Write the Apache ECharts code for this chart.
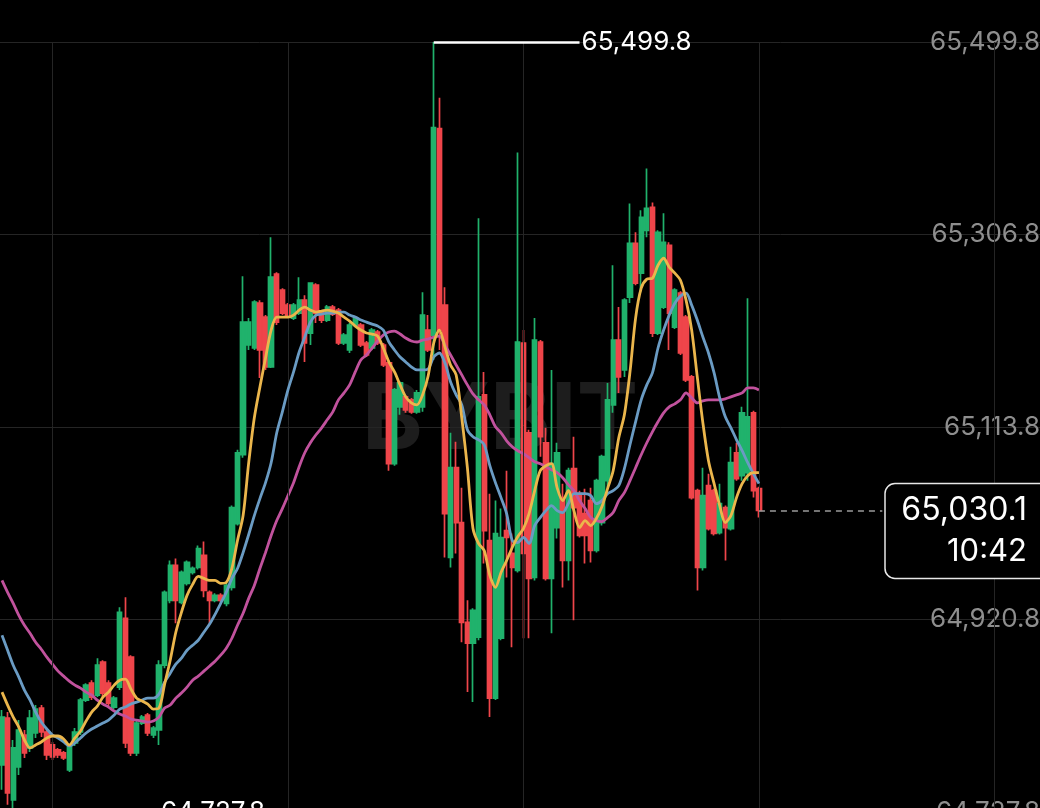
<!DOCTYPE html>
<html>
<head>
<meta charset="utf-8">
<script src="https://cdn.jsdelivr.net/npm/echarts@6/dist/echarts.min.js"></script>
<style>
html,body{margin:0;padding:0;background:#000;}
#c{width:1040px;height:808px;}
</style>
</head>
<body>
<div id="c"></div>
<script>
// ---------- data ----------
const opens = [
64775,64822,64740,64773,64805,64792,64807,64832,64808,64795,
64790,64787,64770,64797,64808,64840,64857,64845,64878,64857,
64833,64853,64922,64883,64787,64817,64825,64805,64810,64875,
64940,64975,64938,64957,64968,64973,64985,64948,64940,64945,
64937,64953,65017,65086,65196,65193,65238,65224,65174,65267,
65251,65236,65223,65228,65241,65208,65256,65229,65221,65234,
65231,65198,65191,65216,65216,65198,65193,65209,65196,65178,
65077,65134,65144,65141,65129,65134,65211,65206,65413,65236,
64983,65073,65018,64918,64897,64903,65146,65000,64842,64902,
65010,64987,64970,65198,65108,64963,65199,65098,64962,65013,
65043,64980,65072,65047,65027,65040,64990,65018,65060,65136,
65201,65171,65244,65298,65268,65311,65334,65208,65234,65296,
65214,65248,65224,65164,65050,64973,65055,65050,65008,65033,
65012,65088,65065,65068,65128,65052];
const closes = [
64823,64747,64792,64810,64787,64822,64831,64808,64785,64783,
64785,64782,64793,64808,64840,64855,64843,64875,64847,64837,
64842,64928,64797,64787,64817,64823,64807,64812,64875,64948,
64975,64940,64968,64978,64972,64992,64950,64940,64945,64940,
64955,65033,65088,65219,65219,65239,65191,65174,65264,65219,
65228,65226,65236,65241,65198,65258,65228,65221,65234,65227,
65198,65206,65216,65223,65196,65186,65211,65198,65176,65077,
65151,65158,65131,65129,65148,65226,65191,65414,65211,65027,
65073,65018,64918,64897,64930,65144,65010,64842,65007,65003,
65003,64973,65199,64987,64962,65201,65104,64962,65077,65088,
64980,65070,65033,65005,65005,64990,65060,65084,65141,65201,
65164,65241,65298,65258,65324,65333,65208,65309,65299,65228,
65251,65188,65161,65043,64973,65045,65012,65007,65037,65013,
65078,65062,65128,65124,65050,65030.1];
const lows = [
64750,64735,64727.8,64765,64782,64788,64802,64803,64780,64780,
64782,64780,64768,64794,64805,64838,64840,64843,64843,64834,
64831,64850,64792,64784,64784,64815,64804,64802,64795,64872,
64937,64917,64936,64955,64966,64971,64943,64917,64938,64938,
64934,64950,65015,65083,65191,65191,65163,65171,65173,65216,
65226,65224,65221,65226,65179,65196,65218,65218,65219,65225,
65196,65196,65188,65214,65194,65184,65191,65196,65174,65070,
65075,65126,65128,65127,65127,65129,65189,65181,65191,64983,
64973,64987,64898,64848,64838,64900,64977,64823,64840,64900,
64963,64893,64968,64902,64902,64960,65084,64960,64907,65002,
64953,64960,64920,65003,64977,64978,64988,65015,65053,65128,
65148,65164,65238,65256,65249,65304,65204,65206,65232,65191,
65212,65186,65159,65041,64950,64970,65010,65005,65006,64980,
65010,65060,65060,65060,65043,65023];
const highs = [
64830,64828,64800,64820,64810,64830,64835,64835,64812,64798,
64792,64789,64795,64812,64842,64857,64860,64882,64880,64860,
64844,64933,64943,64885,64820,64825,64827,64814,64880,64950,
64980,64982,64970,64980,64974,64995,64999,64950,64947,64947,
64958,65035,65091,65265,65223,65241,65241,65226,65304,65269,
65253,65238,65238,65264,65246,65259,65258,65231,65236,65236,
65233,65208,65218,65225,65218,65200,65213,65211,65198,65181,
65153,65160,65146,65143,65151,65249,65226,65499.8,65444,65254,
65108,65099,65053,64940,64932,65323,65169,65047,65040,65032,
65070,65007,65389,65211,65111,65223,65201,65113,65171,65098,
65057,65073,65104,65050,65052,65053,65062,65086,65158,65276,
65234,65243,65338,65309,65331,65373,65339,65311,65328,65299,
65253,65250,65226,65166,65052,65073,65067,65052,65057,65035,
65094,65098,65134,65243,65130,65054];
const maShort = [
64848,64835,64823,64813,64800,64792,64795,64798,64802,64804,
64804,64801,64795,64802,64809,64819,64828,64834,64843,64848,
64855,64860,64861,64851,64842,64839,64836,64831,64832,64856,
64880,64908,64928,64945,64956,64964,64962,64960,64960,64957,
64958,64972,65000,65025,65078,65123,65154,65183,65211,65224,
65224,65224,65226,65231,65234,65231,65229,65230,65231,65230,
65228,65224,65220,65215,65211,65208,65207,65205,65193,65179,
65169,65156,65144,65138,65136,65146,65165,65198,65211,65194,
65176,65166,65123,65073,65012,64997,64990,64965,64953,64968,
64980,64993,65004,65012,65027,65050,65070,65075,65077,65053,
65040,65050,65030,65013,65020,65015,65022,65034,65052,65070,
65103,65126,65169,65223,65253,65262,65263,65276,65283,65274,
65268,65261,65241,65211,65164,65118,65080,65057,65035,65018,
65025,65043,65057,65065,65068,65068];
const maMid = [
64905,64890,64875,64863,64850,64840,64828,64818,64811,64805,
64802,64798,64794,64797,64802,64807,64811,64814,64817,64820,
64825,64831,64833,64836,64838,64840,64842,64842,64846,64858,
64867,64876,64882,64890,64895,64900,64908,64916,64926,64937,
64948,64962,64972,64988,65006,65025,65042,65058,65078,65108,
65129,65151,65169,65189,65204,65219,65226,65227,65228,65228,
65229,65229,65226,65224,65221,65219,65217,65215,65211,65199,
65191,65184,65179,65174,65171,65171,65172,65184,65188,65178,
65159,65146,65136,65111,65104,65101,65096,65075,65058,65043,
65027,65000,64998,65003,64997,65015,65023,65030,65035,65030,
65028,65037,65047,65047,65047,65045,65037,65040,65047,65050,
65055,65072,65096,65119,65141,65156,65168,65193,65211,65226,
65238,65245,65248,65236,65221,65204,65188,65168,65143,65124,
65113,65101,65090,65078,65067,65057];
const maLong = [
64960,64948,64937,64925,64915,64907,64898,64891,64883,64876,
64869,64864,64859,64855,64852,64848,64845,64840,64836,64833,
64829,64826,64824,64821,64820,64819,64818,64819,64823,64832,
64835,64842,64847,64853,64860,64864,64869,64874,64879,64885,
64892,64902,64915,64927,64942,64955,64972,64988,65005,65020,
65032,65045,65058,65074,65088,65098,65106,65113,65121,65129,
65141,65148,65156,65169,65181,65186,65193,65200,65206,65209,
65210,65207,65203,65200,65199,65201,65202,65204,65205,65196,
65186,65176,65166,65156,65147,65141,65136,65126,65114,65108,
65100,65094,65090,65087,65083,65079,65077,65074,65071,65068,
65063,65056,65050,65040,65032,65023,65020,65019,65023,65028,
65040,65048,65060,65073,65086,65098,65109,65119,65128,65134,
65137,65141,65148,65143,65138,65140,65141,65141,65141,65142,
65144,65146,65148,65153,65153,65151];
const yTicks = [64727.8, 64920.8, 65113.8, 65306.8, 65499.8];
const timeGridIdx = [9, 51, 93, 135, 177];
const countdown = '10:42';
const N_CAT = 186;
const categories = Array.from({length: N_CAT}, (_, i) => String(i));

// ---------- helpers ----------
function fmt(v) {
  return v.toFixed(1).replace(/\B(?=(\d{3})+(?!\d))/g, ',');
}
const candles = opens.map((o, i) => [o, closes[i], lows[i], highs[i]]);
let maxIdx = 0, minIdx = 0;
highs.forEach((h, i) => { if (h > highs[maxIdx]) maxIdx = i; });
lows.forEach((l, i) => { if (l < lows[minIdx]) minIdx = i; });
const lastIdx = closes.length - 1;
const lastClose = closes[lastIdx];
const FONT = 'Inter, Roboto, sans-serif';
const UP = '#20b26c', DOWN = '#ef454a', GRIDC = '#252525';

const chart = echarts.init(document.getElementById('c'), null, {renderer: 'canvas'});
const band = 5.607;
const markLab = (v) => ({show: true, position: 'end', formatter: fmt(v), color: '#fff', fontSize: 26, fontFamily: FONT, distance: 2});
const whiteLine = {color: '#fff', width: 2.5, type: 'solid'};
const dashLine = {color: '#9a9a9a', width: 1.5, type: [6, 5]};
const option = {
  backgroundColor: '#000',
  animation: false,
  grid: {left: -0.8, top: 42, width: N_CAT * band, height: 770, containLabel: false, outerBoundsMode: 'none'},
  xAxis: {
    type: 'category', data: categories, boundaryGap: true,
    axisLine: {show: false}, axisTick: {show: false}, axisLabel: {show: false},
    splitLine: {show: false}
  },
  yAxis: {
    type: 'value', position: 'right',
    min: yTicks[0], max: yTicks[yTicks.length - 1],
    interval: Math.round((yTicks[1] - yTicks[0]) * 10) / 10,
    axisLine: {show: false}, axisTick: {show: false},
    splitLine: {show: true, lineStyle: {color: GRIDC, width: 1}},
    axisLabel: {
      inside: true, margin: 2, color: '#8e8e8e', fontSize: 26, fontFamily: FONT,
      formatter: v => fmt(v)
    }
  },
  series: [
    {
      type: 'line', data: [], z: 1, silent: true,
      markLine: {
        silent: true, symbol: ['none', 'none'], animation: false,
        label: {show: false},
        lineStyle: {color: GRIDC, width: 1, type: 'solid'},
        data: timeGridIdx.map(i => ({xAxis: i}))
      }
    },
    {
      type: 'candlestick', data: candles, z: 3, barWidth: 4.8, silent: true,
      itemStyle: {color: UP, color0: DOWN, borderColor: UP, borderColor0: DOWN, borderWidth: 1.7},
      markLine: {
        silent: true, symbol: ['none', 'none'], animation: false,
        label: {show: false},
        data: [
          [
            {coord: [maxIdx, highs[maxIdx]], lineStyle: whiteLine, label: markLab(highs[maxIdx])},
            {coord: [maxIdx + 26, highs[maxIdx]], lineStyle: whiteLine, label: markLab(highs[maxIdx])}
          ],
          [
            {coord: [minIdx, lows[minIdx]], lineStyle: whiteLine, label: markLab(lows[minIdx])},
            {coord: [minIdx + 26, lows[minIdx]], lineStyle: whiteLine, label: markLab(lows[minIdx])}
          ],
          [
            {coord: [lastIdx, lastClose], lineStyle: dashLine, label: {show: false}},
            {coord: [lastIdx + 22, lastClose], lineStyle: dashLine, label: {show: false}}
          ]
        ]
      }
    },
    {type: 'line', data: maLong, z: 4, silent: true, showSymbol: false, symbol: 'none', smooth: 0.3,
     lineStyle: {color: '#c1529d', width: 2.8}},
    {type: 'line', data: maMid, z: 5, silent: true, showSymbol: false, symbol: 'none', smooth: 0.3,
     lineStyle: {color: '#6a9bc3', width: 2.8}},
    {type: 'line', data: maShort, z: 6, silent: true, showSymbol: false, symbol: 'none', smooth: 0.3,
     lineStyle: {color: '#ebb64c', width: 2.8}}
  ]
};
chart.setOption(option);

const p = chart.convertToPixel({xAxisIndex: 0, yAxisIndex: 0}, [lastIdx, lastClose]);
const py = p[1];
chart.setOption({
  graphic: [
    {type: 'text', x: 500, y: 421, z: -10, silent: true,
     style: {text: 'BYBIT', fill: '#1d1d1d', font: 'bold 92px ' + FONT, align: 'center', verticalAlign: 'middle'}},
    {type: 'rect', z: 100, silent: true,
     shape: {x: 885, y: py - 27, width: 175, height: 95, r: 10},
     style: {fill: '#000', stroke: '#e8e8e8', lineWidth: 1.5}},
    {type: 'text', z: 101, silent: true, x: 1027, y: py,
     style: {text: fmt(lastClose), fill: '#fff', font: '32px ' + FONT, align: 'right', verticalAlign: 'middle'}},
    {type: 'text', z: 101, silent: true, x: 1027, y: py + 41,
     style: {text: countdown, fill: '#fff', font: '31px ' + FONT, align: 'right', verticalAlign: 'middle'}}
  ]
});
</script>
</body>
</html>
